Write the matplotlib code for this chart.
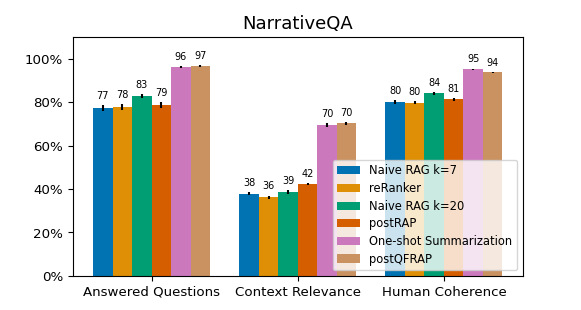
import numpy as np
import matplotlib.pyplot as plt

categories = ["Answered Questions", "Context Relevance", "Human Coherence"]
methods = ["Naive RAG k=7", "reRanker", "Naive RAG k=20", "postRAP",
           "One-shot Summarization", "postQFRAP"]

# rows: methods, columns: categories (fractions)
means = np.array([
    [0.773, 0.379, 0.801],
    [0.778, 0.363, 0.798],
    [0.829, 0.386, 0.841],
    [0.788, 0.423, 0.813],
    [0.964, 0.696, 0.952],
    [0.968, 0.703, 0.938],
])
errs = np.array([
    [0.013, 0.008, 0.008],
    [0.013, 0.007, 0.008],
    [0.010, 0.008, 0.007],
    [0.013, 0.006, 0.007],
    [0.004, 0.008, 0.003],
    [0.004, 0.006, 0.003],
])
colors = ["#0173B2", "#DE8F05", "#029E73", "#D55E00", "#CC78BC", "#CA9161"]

fig, ax = plt.subplots(figsize=(5.81, 3.10), dpi=100)
x = np.arange(len(categories))
w = 0.8 / len(methods)

for i, m in enumerate(methods):
    pos = x - 0.4 + w / 2 + i * w
    ax.bar(pos, means[i], w, yerr=errs[i], color=colors[i], label=m,
           error_kw=dict(elinewidth=1.5, ecolor="black", capsize=0))
    for p, v, e in zip(pos, means[i], errs[i]):
        ax.annotate(f"{v * 100:.0f}", (p, v + e), xytext=(0, 3),
                    textcoords="offset points", ha="center", va="bottom",
                    fontsize=7)

ax.set_ylim(0, 1.1)
ax.set_yticks([0, 0.2, 0.4, 0.6, 0.8, 1.0])
ax.set_yticklabels(["0%", "20%", "40%", "60%", "80%", "100%"])
ax.set_xticks(x)
ax.set_xticklabels(categories)
ax.tick_params(labelsize=9.6)
ax.set_title("NarrativeQA", fontsize=13)
ax.legend(loc="lower right", fontsize=8.3, labelspacing=0.4)

plt.savefig("out.png", dpi=100)
